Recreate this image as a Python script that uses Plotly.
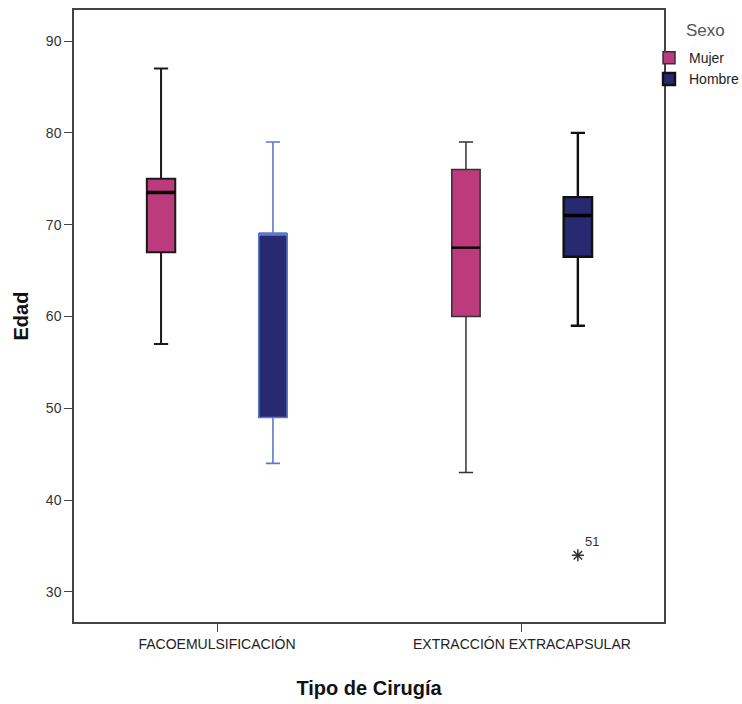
import plotly.graph_objects as go

categories = ["FACOEMULSIFICACIÓN", "EXTRACCIÓN EXTRACAPSULAR"]
sexes = ["Mujer", "Hombre"]

# stats per sex, per category: [faco, extr]
mujer_low = [57, 43]
mujer_q1 = [67, 60]
mujer_med = [73.5, 67.5]
mujer_q3 = [75, 76]
mujer_high = [87, 79]

hombre_low = [44, 59]
hombre_q1 = [49, 66.5]
hombre_med = [69, 71]
hombre_q3 = [69, 73]
hombre_high = [79, 80]

outlier_cat = 1
outlier_val = [34]
outlier_label = ["51"]

colors = {"Mujer": "#BC3B7D", "Hombre": "#282A71"}
# (line colour, line width, median colour, median width)
line_styles = {
    ("Mujer", 0): ("#1a1a1a", 2.0, "#000000", 3.5),
    ("Mujer", 1): ("#333333", 1.5, "#000000", 2.2),
    ("Hombre", 0): ("#5B78CC", 1.6, "#5B78CC", 3.0),
    ("Hombre", 1): ("#111111", 2.4, "#000000", 3.5),
}
legend_trace = {"Mujer": 1, "Hombre": 1}

stats = {
    "Mujer": (mujer_low, mujer_q1, mujer_med, mujer_q3, mujer_high),
    "Hombre": (hombre_low, hombre_q1, hombre_med, hombre_q3, hombre_high),
}

boxgap = 0.266
boxgroupgap = 0.746
xr = [-0.469, 1.466]

fig = go.Figure()
for s in sexes:
    lo, q1, md, q3, hi = stats[s]
    for i, c in enumerate(categories):
        lc, lw, mc, mw = line_styles[(s, i)]
        fig.add_trace(go.Box(
            x=[c], lowerfence=[lo[i]], q1=[q1[i]], median=[md[i]], q3=[q3[i]],
            upperfence=[hi[i]], name=s, offsetgroup=s, legendgroup=s,
            showlegend=(i == legend_trace[s]), fillcolor=colors[s],
            line=dict(color=lc, width=lw),
            whiskerwidth=0.5, boxpoints=False, hoverinfo="skip",
        ))
# thicker median lines, drawn as flat boxes in the same offset groups
for s in sexes:
    md = stats[s][2]
    for i, c in enumerate(categories):
        lc, lw, mc, mw = line_styles[(s, i)]
        fig.add_trace(go.Box(
            x=[c], lowerfence=[md[i]], q1=[md[i]], median=[md[i]], q3=[md[i]],
            upperfence=[md[i]], name=s, offsetgroup=s, legendgroup=s,
            showlegend=False, fillcolor="rgba(0,0,0,0)",
            line=dict(color=mc, width=mw),
            whiskerwidth=0, boxpoints=False, hoverinfo="skip",
        ))

offset = (1 - boxgap) / 4
fig.add_trace(go.Scatter(
    x=[outlier_cat + offset], y=outlier_val, xaxis="x2", mode="markers",
    marker=dict(symbol="asterisk-open", size=10, color="#333333",
                line=dict(color="#333333", width=1.5)),
    showlegend=False, hoverinfo="skip",
))
fig.add_annotation(x=outlier_cat + offset, y=outlier_val[0], xref="x2", yref="y",
                   text=outlier_label[0], showarrow=False, xshift=14, yshift=14,
                   font=dict(size=13, color="#333333"))

fig.add_annotation(x=1.0695, y=0.967, xref="paper", yref="paper", text="Sexo",
                   showarrow=False, xanchor="center", yanchor="middle",
                   font=dict(size=17, color="#555555"))

font = "Arial, Liberation Sans, sans-serif"
fig.update_layout(
    width=742, height=704,
    margin=dict(l=74, r=78, t=10, b=82, autoexpand=False),
    paper_bgcolor="white", plot_bgcolor="white",
    font=dict(family=font, size=14, color="#222222"),
    boxmode="group", boxgap=boxgap, boxgroupgap=boxgroupgap,
    xaxis=dict(
        type="category", categoryorder="array", categoryarray=categories,
        range=xr, showgrid=False, zeroline=False, automargin=False,
        showline=True, linecolor="#444444", linewidth=1.5, mirror=True,
        ticks="outside", ticklen=8, tickcolor="#444444", tickwidth=1.2,
        tickfont=dict(size=14, color="#222222"),
        title=dict(text="<b>Tipo de Cirugía</b>", font=dict(size=20, color="#111111"), standoff=30),
    ),
    xaxis2=dict(overlaying="x", range=xr, visible=False, anchor="y"),
    yaxis=dict(
        range=[26.73, 93.38], dtick=10, showgrid=False, zeroline=False, automargin=False,
        showline=True, linecolor="#444444", linewidth=1.5, mirror=True,
        ticks="outside", ticklen=8, tickcolor="#444444", tickwidth=1.2,
        tickfont=dict(size=14, color="#333333"),
        title=dict(text="<b>Edad</b>", font=dict(size=20, color="#111111"), standoff=12),
    ),
    legend=dict(
        x=0.9746, y=0.9475, xanchor="left", yanchor="top",
        bgcolor="rgba(0,0,0,0)", font=dict(size=14, color="#222222"),
        itemwidth=30, tracegroupgap=0,
    ),
)

fig.write_html(
    "out.html",
    config={"displayModeBar": False},
    post_script="document.body.style.margin='0px';document.body.style.overflow='hidden';",
)
